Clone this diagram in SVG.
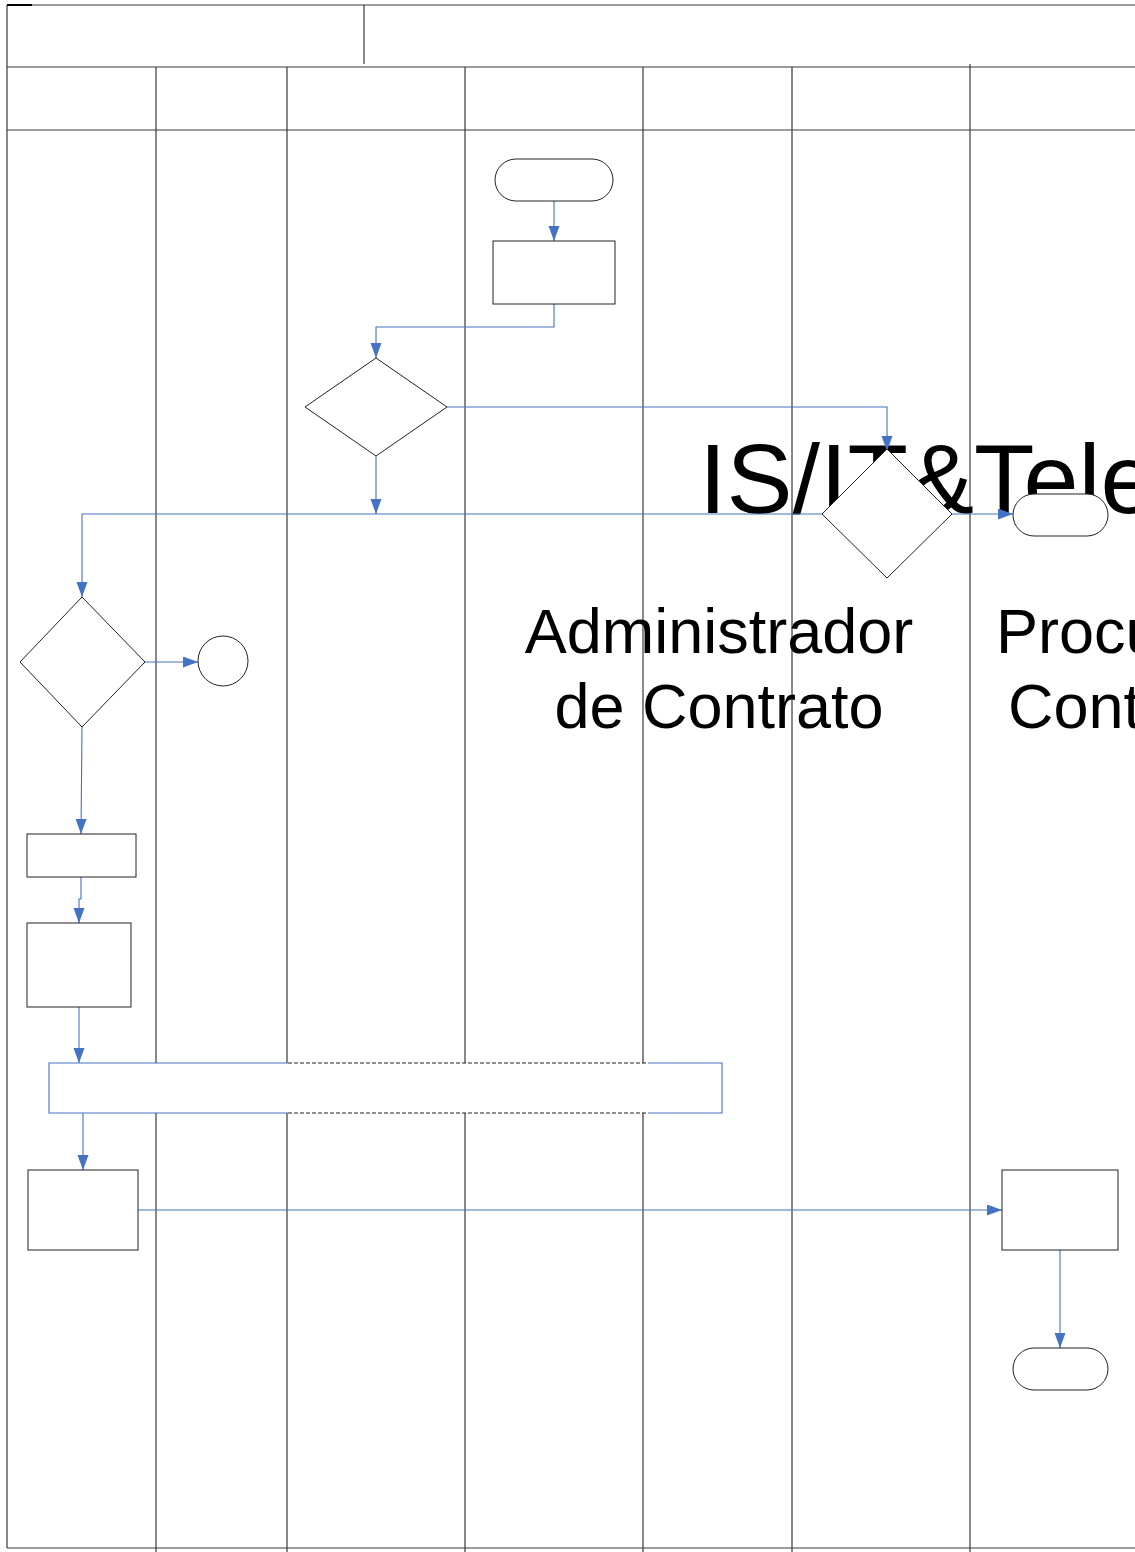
<svg xmlns="http://www.w3.org/2000/svg" width="1135" height="1552" viewBox="0 0 1135 1552">
<style>
.grid{stroke:#3a3a3a;stroke-width:1.2;fill:none}
.lbl{font-family:"Liberation Sans",Arial,sans-serif;fill:#000}
.node{fill:#fff;stroke:#222;stroke-width:1}
.conn{fill:none;stroke:#4472C4;stroke-width:1.1}
.dash{fill:none;stroke:#222;stroke-width:1;stroke-dasharray:4 2}
</style>
<defs>
<marker id="arr" markerUnits="userSpaceOnUse" markerWidth="16" markerHeight="12" refX="15" refY="5.5" orient="auto">
<path d="M0,0 L15,5.5 L0,11 z" fill="#4472C4"/>
</marker>
</defs>
<rect width="1135" height="1552" fill="#fff"/>
<g id="frame">
<path class="grid" d="M7,5 H1135 M7,67 H1135 M7,130 H1135 M7,1548 H1135 M7,5 V1548 M364,5 V64"/>
<path d="M7,5 H32" stroke="#000" stroke-width="2"/>
<path class="grid" d="M156,67 V1552 M287,67 V1552 M465,67 V1552 M643,67 V1552 M792,67 V1552 M970,64 V1552"/>
</g>
<g id="labels">
<text class="lbl" x="699" y="513" font-size="99">IS/IT&amp;Tele</text>
<text class="lbl" x="719" y="653" font-size="63" text-anchor="middle">Administrador</text>
<text class="lbl" x="719" y="728" font-size="63" text-anchor="middle">de Contrato</text>
<text class="lbl" x="996" y="653" font-size="63">Procu</text>
<text class="lbl" x="1008" y="728" font-size="63">Cont</text>
</g>
<g id="connectors">
<path class="conn" d="M554,201 V241" marker-end="url(#arr)"/>
<path class="conn" d="M554,304 V327 H376 V358" marker-end="url(#arr)"/>
<path class="conn" d="M447,407 H887 V451" marker-end="url(#arr)"/>
<path class="conn" d="M376,456 V514" marker-end="url(#arr)"/>
<path class="conn" d="M822,514 H82 V597" marker-end="url(#arr)"/>
<path class="conn" d="M952,514 H1013" marker-end="url(#arr)"/>
<path class="conn" d="M145,662 H198" marker-end="url(#arr)"/>
<path class="conn" d="M82,727 L81,834" marker-end="url(#arr)"/>
<path class="conn" d="M81,877 V899 H79 V923" marker-end="url(#arr)"/>
<path class="conn" d="M79,1007 V1063" marker-end="url(#arr)"/>
<path class="conn" d="M83,1113 V1170" marker-end="url(#arr)"/>
<path class="conn" d="M138,1210 H1002" marker-end="url(#arr)"/>
<path class="conn" d="M1060,1250 V1348" marker-end="url(#arr)"/>
</g>
<g id="start"><rect class="node" x="495" y="159" width="118" height="42" rx="21"/></g>
<g id="task1"><rect class="node" x="493" y="241" width="122" height="63"/></g>
<g id="decision1"><polygon class="node" points="376,358 447,407 376,456 305,407"/></g>
<g id="decision2"><polygon class="node" points="887,449 952,514 887,578 822,514"/></g>
<g id="end1"><rect class="node" x="1013" y="494" width="95" height="42" rx="21"/></g>
<g id="decision3"><polygon class="node" points="82,597 145,662 82,727 20,662"/></g>
<g id="connector-circle"><circle class="node" cx="223" cy="661" r="25"/></g>
<g id="task2"><rect class="node" x="27" y="834" width="109" height="43"/></g>
<g id="task3"><rect class="node" x="27" y="923" width="104" height="84"/></g>
<g id="band">
<rect x="49" y="1063" width="673" height="50" fill="#fff"/>
<path class="conn" d="M288,1063 H49 V1113 H288 M648,1063 H722 V1113 H648"/>
<path class="dash" d="M288,1063 H648 M288,1113 H648"/>
</g>
<g id="task4"><rect class="node" x="28" y="1170" width="110" height="80"/></g>
<g id="task5"><rect class="node" x="1002" y="1170" width="116" height="80"/></g>
<g id="end2"><rect class="node" x="1013" y="1348" width="95" height="42" rx="21"/></g>
</svg>
